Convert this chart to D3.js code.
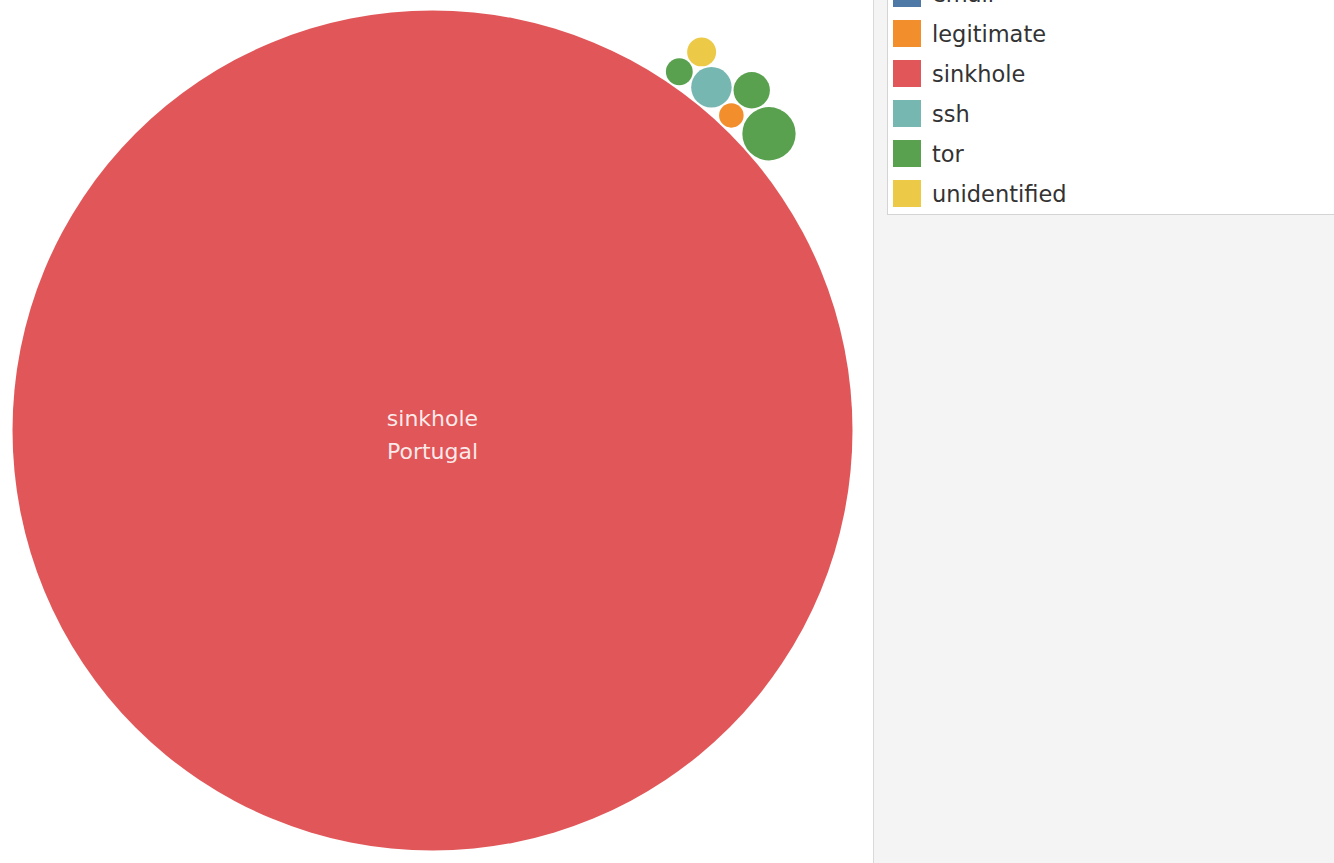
<!DOCTYPE html>
<html>
<head>
<meta charset="utf-8">
<script src="https://cdn.jsdelivr.net/npm/d3@7"></script>
<style>
  html, body { margin: 0; padding: 0; background: #fff; }
  svg { display: block; }
  text { font-family: "DejaVu Sans", sans-serif; }
</style>
</head>
<body>
<svg id="chart" width="1334" height="863"></svg>
<script>
// ---- data ----
const bubbleCategories = ["sinkhole", "ssh", "legitimate", "tor", "unidentified", "tor", "tor"];
const bubbleLabels     = ["Portugal", null, null, null, null, null, null];
const bubbleValues     = [17640, 41, 15, 18, 21, 33, 71];

const legendCategories = ["email", "legitimate", "sinkhole", "ssh", "tor", "unidentified"];
const legendColors     = ["#4e79a7", "#f28e2b", "#e15759", "#76b7b2", "#59a14f", "#edc948"];

// ---- packing rules (which earlier bubbles each bubble rests against) ----
// [neighbourA, neighbourB, side]  side: +1 / -1 around the pair, 0 = outer side
const packRules = [
  null,          // largest bubble: centre
  "rim",         // first small bubble: on the rim of the largest
  [0, 1, +1],
  [0, 1, -1],
  [1, 3, 0],
  [1, 2, 0],
  [0, 5, +1]
];

// ---- layout ----
const W = 1334, H = 863;
const plotW = 865, plotH = 861;
const paneX = 873;
const maxR = 420;
const pad = 2;
const rimAngle = -50.9 * Math.PI / 180;

const svg = d3.select("#chart");
const color = d3.scaleOrdinal().domain(legendCategories).range(legendColors);
const rScale = d3.scaleSqrt().domain([0, d3.max(bubbleValues)]).range([0, maxR]);

const nodes = bubbleValues.map((v, i) => ({
  cat: bubbleCategories[i], label: bubbleLabels[i], value: v, r: rScale(v)
}));

function tangent(a, b, c, side) {
  const dx = b.x - a.x, dy = b.y - a.y, d = Math.hypot(dx, dy);
  const ra = a.r + c.r + pad, rb = b.r + c.r + pad;
  const x = (d * d + ra * ra - rb * rb) / (2 * d);
  const h = Math.sqrt(Math.max(0, ra * ra - x * x));
  const ux = dx / d, uy = dy / d;
  return s => ({ x: a.x + x * ux - s * h * uy, y: a.y + x * uy + s * h * ux });
}

nodes.forEach((n, i) => {
  const rule = packRules[i];
  if (rule === null) { n.x = 0; n.y = 0; return; }
  if (rule === "rim") {
    const d = nodes[0].r + n.r + pad;
    n.x = d * Math.cos(rimAngle); n.y = d * Math.sin(rimAngle); return;
  }
  const f = tangent(nodes[rule[0]], nodes[rule[1]], n);
  let p;
  if (rule[2] === 0) {
    const p1 = f(1), p2 = f(-1);
    p = Math.hypot(p1.x, p1.y) > Math.hypot(p2.x, p2.y) ? p1 : p2;
  } else p = f(rule[2]);
  n.x = p.x; n.y = p.y;
});

const g = svg.append("g")
  .attr("transform", `translate(${plotW / 2},${plotH / 2})`);

g.selectAll("circle.bubble")
  .data(nodes)
  .join("circle")
  .attr("class", "bubble")
  .attr("cx", d => d.x)
  .attr("cy", d => d.y)
  .attr("r", d => d.r)
  .attr("fill", d => color(d.cat));

const lab = g.selectAll("text.blabel")
  .data(nodes.filter(d => d.label))
  .join("text")
  .attr("class", "blabel")
  .attr("x", d => d.x)
  .attr("y", d => d.y)
  .attr("text-anchor", "middle")
  .attr("fill", "#fff")
  .attr("fill-opacity", 0.88)
  .style("font-size", "22px");
lab.append("tspan").attr("x", d => d.x).attr("dy", -5).text(d => d.cat);
lab.append("tspan").attr("x", d => d.x).attr("dy", 33).text(d => d.label);

// ---- right pane + legend ----
svg.append("rect")
  .attr("x", paneX).attr("y", 0)
  .attr("width", W - paneX).attr("height", H)
  .attr("fill", "#f4f4f4");
svg.append("line")
  .attr("x1", paneX + 0.5).attr("x2", paneX + 0.5)
  .attr("y1", 0).attr("y2", H)
  .attr("stroke", "#d9d9d9");

const legX = 887.5;
svg.append("rect")
  .attr("x", legX).attr("y", -2)
  .attr("width", W - legX + 10).attr("height", 216.5)
  .attr("fill", "#fff")
  .attr("stroke", "#d4d4d4");

const legY = d3.scalePoint().domain(legendCategories).range([-6.5, 193.5]);
const items = svg.selectAll("g.leg")
  .data(legendCategories)
  .join("g")
  .attr("class", "leg")
  .attr("transform", d => `translate(0,${legY(d)})`);
items.append("rect")
  .attr("x", 893).attr("y", -13.5)
  .attr("width", 28).attr("height", 27)
  .attr("fill", d => color(d));
items.append("text")
  .attr("x", 932).attr("y", 8)
  .attr("fill", "#333")
  .style("font-size", "22.5px")
  .text(d => d);
</script>
</body>
</html>
